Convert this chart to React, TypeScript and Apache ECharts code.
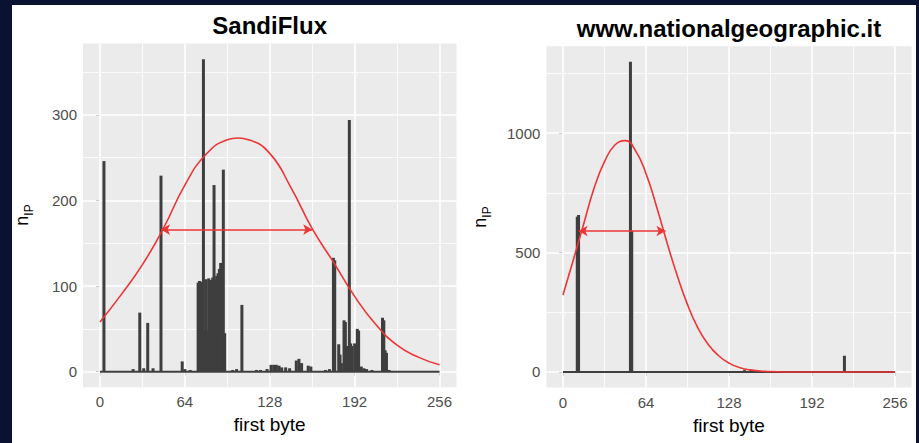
import React, { useEffect, useRef } from 'react';
import * as echarts from 'echarts';

// ---- axis breaks ----
const xTicks = [0, 64, 128, 192, 256];
const xMinor = [32, 96, 160, 224];
const sandiYTicks = [0, 100, 200, 300];
const sandiYMinor = [50, 150, 250, 350];
const natYTicks = [0, 500, 1000];
const natYMinor = [250, 750, 1250];

// ---- SandiFlux: counts per first byte ----
const sandiBytes = [3, 25, 30, 33, 36, 40, 46, 62, 64, 68,
  74, 75, 76, 77, 78, 79, 80, 81, 82, 83, 84, 85, 86, 87, 88, 89, 90, 91, 92, 93, 94,
  100, 103, 107, 118, 121, 126, 129, 131, 133, 135, 137, 140, 143, 148, 150, 152, 157, 159,
  170, 173, 176, 177, 180, 181, 182, 184, 185, 186, 188, 189, 190, 192, 194, 195, 197, 199, 201, 205,
  213, 214, 215, 216, 218];
const sandiCounts = [246, 3, 69, 4, 57, 4, 229, 12, 3, 2,
  104, 106, 105, 50, 365, 48, 108, 49, 109, 52, 107, 110, 218, 108, 112, 115, 120, 127, 60, 236, 45,
  2, 3, 78, 2, 2, 3, 8, 8, 8, 7, 5, 5, 4, 13, 15, 10, 7, 6,
  2, 3, 133, 130, 32, 20, 10, 60, 58, 30, 294, 33, 30, 33, 50, 48, 6, 4, 3, 2,
  63, 60, 25, 22, 2];
const sandiCurveX = [0, 16, 32, 48, 64, 80, 96, 104, 112, 128, 144, 160, 176, 192, 208, 224, 240, 256];
const sandiCurveY = [58, 90, 125, 168, 218, 254, 271, 273, 271, 255, 215, 167, 128, 88, 55, 31, 17, 8];
const sandiArrowX = [46, 160];
const sandiArrowY = 166;
const sandiYRange = [-18.25, 383.25];

// ---- www.nationalgeographic.it ----
const natBytes = [11, 12, 52, 53, 140, 145, 150, 154, 217];
const natCounts = [650, 657, 1298, 590, 8, 10, 6, 4, 68];
const natCurveX = [0, 8, 16, 24, 32, 40, 48, 56, 64, 72, 80, 88, 96, 104, 112, 120, 128, 136, 144, 152, 160, 176, 192, 224, 256];
const natCurveY = [322, 470, 620, 770, 880, 950, 968, 925, 830, 695, 545, 405, 282, 185, 115, 68, 37, 19, 9, 4, 2, 0, 0, 0, 0];
const natArrowX = [12, 79];
const natArrowY = 590;
const natYRange = [-64.9, 1362.9];

const baselineX = [0, 256];
const xRange = [-12.8, 268.8];

const FONT = "'Liberation Sans', Arial, sans-serif";
const BAR = '#3e3e3e';
const RED = '#ee3434';

function gridLines(idx: number, yMajor: number[], yMinor: number[]) {
  const minorStyle = { color: '#ffffff', width: 0.8, type: 'solid' as const };
  const majorStyle = { color: '#ffffff', width: 1.6, type: 'solid' as const };
  return {
    type: 'line',
    xAxisIndex: idx,
    yAxisIndex: idx,
    data: [[0, 0]],
    symbol: 'none',
    lineStyle: { width: 0 },
    z: 1,
    silent: true,
    markLine: {
      silent: true,
      z: 1,
      symbol: ['none', 'none'],
      label: { show: false },
      animation: false,
      data: [
        ...xMinor.map((v) => ({ xAxis: v, lineStyle: minorStyle })),
        ...yMinor.map((v) => ({ yAxis: v, lineStyle: minorStyle })),
        ...xTicks.map((v) => ({ xAxis: v, lineStyle: majorStyle })),
        ...yMajor.map((v) => ({ yAxis: v, lineStyle: majorStyle })),
      ],
    },
  };
}

function panelSeries(idx: number, bytes: number[], counts: number[], cx: number[], cy: number[], ax: number[], ay: number) {
  return [
    {
      type: 'bar',
      xAxisIndex: idx,
      yAxisIndex: idx,
      data: bytes.map((b, i) => [b, counts[i]]),
      barWidth: 3,
      barGap: '-100%',
      itemStyle: { color: BAR },
      z: 2,
      silent: true,
    },
    {
      type: 'line',
      xAxisIndex: idx,
      yAxisIndex: idx,
      data: baselineX.map((x) => [x, 0]),
      symbol: 'none',
      lineStyle: { color: BAR, width: 2 },
      z: 3,
      silent: true,
    },
    {
      type: 'line',
      xAxisIndex: idx,
      yAxisIndex: idx,
      data: cx.map((x, i) => [x, cy[i]]),
      smooth: 0.5,
      symbol: 'none',
      lineStyle: { color: RED, width: 1.6 },
      z: 4,
      silent: true,
      markLine: {
        silent: true,
        z: 6,
        symbol: ['arrow', 'arrow'],
        symbolSize: [8, 9],
        label: { show: false },
        animation: false,
        lineStyle: { color: RED, width: 1.5, type: 'solid' },
        itemStyle: { color: RED },
        data: [[{ coord: [ax[0], ay] }, { coord: [ax[1], ay] }]],
      },
    },
  ];
}

const plainNumber = (v: number) => String(v);

function xAxisOf(idx: number) {
  return {
    type: 'value',
    gridIndex: idx,
    min: xRange[0],
    max: xRange[1],
    axisLine: { show: false },
    axisTick: { show: true, customValues: xTicks, length: 4, lineStyle: { color: '#333333', width: 1 } },
    axisLabel: { customValues: xTicks, formatter: plainNumber, margin: 7, color: '#4d4d4d', fontSize: 15, fontFamily: FONT },
    splitLine: { show: false },
    name: 'first byte',
    nameLocation: 'middle',
    nameGap: 28,
    nameTextStyle: { color: '#000000', fontSize: 19, fontFamily: FONT },
  };
}

function yAxisOf(idx: number, range: number[], ticks: number[]) {
  return {
    type: 'value',
    gridIndex: idx,
    min: range[0],
    max: range[1],
    axisLine: { show: false },
    axisTick: { show: true, customValues: ticks, length: 4, lineStyle: { color: '#333333', width: 1 } },
    axisLabel: { customValues: ticks, formatter: plainNumber, margin: 6, color: '#4d4d4d', fontSize: 15, fontFamily: FONT },
    splitLine: { show: false },
  };
}

function titleText(text: string, x: number, y: number) {
  return {
    type: 'text',
    x,
    y,
    silent: true,
    style: {
      text,
      fill: '#000000',
      font: `bold 24px ${FONT}`,
      align: 'center',
      verticalAlign: 'top',
      textAlign: 'center',
      textVerticalAlign: 'top',
    },
  };
}

function yNameText(x: number, y: number) {
  return {
    type: 'text',
    x,
    y,
    rotation: Math.PI / 2,
    silent: true,
    style: {
      text: '{n|n}{s|IP}',
      align: 'center',
      verticalAlign: 'middle',
      textAlign: 'center',
      textVerticalAlign: 'middle',
      rich: {
        n: { fontSize: 18, fontFamily: FONT, fill: '#000000', color: '#000000', lineHeight: 18, verticalAlign: 'top' },
        s: { fontSize: 12, fontFamily: FONT, fill: '#000000', color: '#000000', lineHeight: 22, verticalAlign: 'bottom' },
      },
    },
  };
}

export default function App() {
  const ref = useRef<HTMLDivElement>(null);
  useEffect(() => {
    document.body.style.margin = '0';
    if (!ref.current) return;
    const chart = echarts.init(ref.current, undefined, { renderer: 'svg' });
    chart.setOption({
      animation: false,
      backgroundColor: '#ffffff',
      grid: [
        { left: 71, top: 38.6, width: 373.5, height: 343.7, show: true, backgroundColor: '#ebebeb', borderWidth: 0, containLabel: false },
        { left: 534.4, top: 41.3, width: 365.2, height: 341.2, show: true, backgroundColor: '#ebebeb', borderWidth: 0, containLabel: false },
      ],
      xAxis: [xAxisOf(0), xAxisOf(1)],
      yAxis: [yAxisOf(0, sandiYRange, sandiYTicks), yAxisOf(1, natYRange, natYTicks)],
      series: [
        gridLines(0, sandiYTicks, sandiYMinor),
        gridLines(1, natYTicks, natYMinor),
        ...panelSeries(0, sandiBytes, sandiCounts, sandiCurveX, sandiCurveY, sandiArrowX, sandiArrowY),
        ...panelSeries(1, natBytes, natCounts, natCurveX, natCurveY, natArrowX, natArrowY),
      ],
      graphic: [
        titleText('SandiFlux', 257.7, 8),
        titleText('www.nationalgeographic.it', 717, 11),
        yNameText(12, 210),
        yNameText(470, 212),
      ],
    });
    return () => chart.dispose();
  }, []);
  return (
    <div style={{ position: 'relative', width: 919, height: 443, background: '#0a1232', overflow: 'hidden' }}>
      <div ref={ref} style={{ position: 'absolute', left: 12, top: 5, width: 904, height: 438 }} />
    </div>
  );
}
